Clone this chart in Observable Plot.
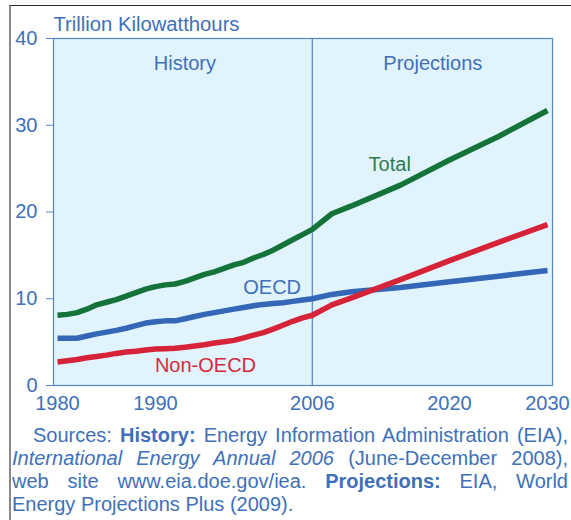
<!DOCTYPE html>
<html>
<head>
<meta charset="utf-8">
<script src="https://cdn.jsdelivr.net/npm/d3@7"></script>
<script src="https://cdn.jsdelivr.net/npm/@observablehq/plot@0.6"></script>
<style>
  html, body { margin: 0; padding: 0; background: #fff; }
  body { width: 571px; height: 520px; position: relative; overflow: hidden;
         font-family: "Liberation Sans", Arial, Helvetica, sans-serif; }
  #border { position: absolute; left: 9px; top: 5px; right: 0; bottom: 0;
            border-top: 1.5px solid #2a2a2a; border-left: 2px solid #8a8a8a; pointer-events: none; }
  #chart { position: absolute; left: 0; top: 0; }
  #caption { position: absolute; left: 12px; top: 424px; width: 556px;
             font-size: 20px; line-height: 23px; color: #4070b8; }
  #caption div { text-align: justify; text-align-last: justify; white-space: nowrap; }
  #caption div.first { padding-left: 21px; }
  #caption div.last { text-align: left; text-align-last: left; }
  #caption b { font-weight: bold; }
</style>
</head>
<body>
<div id="chart"></div>
<div id="border"></div>
<div id="caption">
  <div class="first">Sources: <b>History:</b> Energy Information Administration (EIA),</div>
  <div><i>International Energy Annual 2006</i> (June-December 2008),</div>
  <div>web site www.eia.doe.gov/iea. <b>Projections:</b> EIA, World</div>
  <div class="last">Energy Projections Plus (2009).</div>
</div>
<script>
// ---- Data (trillion kilowatthours) ----
const histYears = [1980, 1981, 1982, 1983, 1984, 1985, 1986, 1987, 1988, 1989,
                   1990, 1991, 1992, 1993, 1994, 1995, 1996, 1997, 1998, 1999,
                   2000, 2001, 2002, 2003, 2004, 2005, 2006];
const projYears = [2008, 2010, 2015, 2020, 2025, 2030];

const totalHist = [8.1, 8.2, 8.4, 8.8, 9.3, 9.6, 9.9, 10.3, 10.7, 11.1,
                   11.4, 11.6, 11.7, 12.0, 12.4, 12.8, 13.1, 13.5, 13.9, 14.2,
                   14.7, 15.1, 15.6, 16.2, 16.8, 17.4, 18.0];
const totalProj = [19.8, 20.7, 23.1, 26.0, 28.7, 31.7];

const oecdHist = [5.45, 5.45, 5.45, 5.7, 5.95, 6.15, 6.35, 6.6, 6.9, 7.2,
                  7.35, 7.45, 7.45, 7.7, 7.95, 8.2, 8.4, 8.6, 8.8, 9.0,
                  9.2, 9.35, 9.45, 9.55, 9.7, 9.85, 10.0];
const oecdProj = [10.5, 10.8, 11.3, 11.95, 12.6, 13.25];

const nonOecdHist = [2.7, 2.85, 3.0, 3.2, 3.35, 3.5, 3.7, 3.85, 3.95, 4.1,
                     4.2, 4.25, 4.3, 4.4, 4.55, 4.7, 4.9, 5.05, 5.2, 5.5,
                     5.8, 6.1, 6.5, 6.95, 7.4, 7.8, 8.1];
const nonOecdProj = [9.3, 10.1, 12.2, 14.4, 16.5, 18.55];

const seriesNames = ["Total", "OECD", "Non-OECD"];
const xTicks = [1980, 1990, 2006, 2020, 2030];
const yTicks = [0, 10, 20, 30, 40];
const divider = [2006];
const periodLabels = [
  {x: 1993.0, y: 37.05, text: "History"},
  {x: 2018.3, y: 37.05, text: "Projections"}
];
const seriesLabels = [
  {x: 2013.9, y: 25.44, text: "Total", series: "Total"},
  {x: 2001.9, y: 11.31, text: "OECD", series: "OECD"},
  {x: 1995.1, y: 2.27, text: "Non-OECD", series: "Non-OECD"}
];
const titleText = "Trillion Kilowatthours";

// ---- Build table ----
const years = histYears.concat(projYears);
const table = [];
[[seriesNames[0], totalHist, totalProj],
 [seriesNames[1], oecdHist, oecdProj],
 [seriesNames[2], nonOecdHist, nonOecdProj]].forEach(([name, h, p]) => {
  h.concat(p).forEach((v, i) => table.push({series: name, year: years[i], value: v}));
});

const colors = {"Total": "#137339", "OECD": "#3467b6", "Non-OECD": "#d62338"};
const labelColors = {"Total": "#2f7d4e", "OECD": "#4070b8", "Non-OECD": "#d42a3c"};
const textBlue = "#4070b8";
const frameBlue = "#5584c6";

const chart = Plot.plot({
  width: 571,
  height: 418,
  marginLeft: 53,
  marginRight: 19,
  marginTop: 38,
  marginBottom: 33,
  style: {fontFamily: "'Liberation Sans', Arial, Helvetica, sans-serif", fontSize: "20px", background: "transparent"},
  x: {domain: [1980, 2030], insetLeft: 4, insetRight: 5},
  y: {domain: [0, 40]},
  marks: [
    Plot.frame({fill: "#e1f3fd", stroke: "none"}),
    Plot.ruleX(divider, {stroke: frameBlue, strokeWidth: 1.2}),
    Plot.line(table, {x: "year", y: "value", z: "series",
      stroke: d => colors[d.series], strokeWidth: 5.5, strokeLinejoin: "round", strokeLinecap: "butt"}),
    Plot.frame({stroke: frameBlue, strokeWidth: 1.2}),
    Plot.axisY({ticks: yTicks, tickSize: 7, tickPadding: 9, fontSize: 20, color: textBlue,
      stroke: frameBlue, label: null, tickFormat: d => String(d)}),
    Plot.axisX({ticks: xTicks, tickSize: 0, tickPadding: 10, fontSize: 20, color: textBlue,
      label: null, tickFormat: d => String(d)}),
    Plot.text(periodLabels, {x: "x", y: "y", text: "text", fill: textBlue, fontSize: 20,
      textAnchor: "middle", lineAnchor: "middle"}),
    Plot.text(seriesLabels, {x: "x", y: "y", text: "text", fill: d => labelColors[d.series],
      fontSize: 20, textAnchor: "middle", lineAnchor: "middle"}),
    Plot.text([titleText], {text: d => d, frameAnchor: "top-left", dy: -22, dx: 0,
      lineAnchor: "top", textAnchor: "start", fill: textBlue, fontSize: 20,
      className: "chart-title"})
  ]
});
// The reference title is set in a condensed face: fit it to its measured width.
chart.querySelectorAll(".chart-title text").forEach(t => {
  t.setAttribute("textLength", "186");
  t.setAttribute("lengthAdjust", "spacingAndGlyphs");
});
document.getElementById("chart").appendChild(chart);
</script>
</body>
</html>
